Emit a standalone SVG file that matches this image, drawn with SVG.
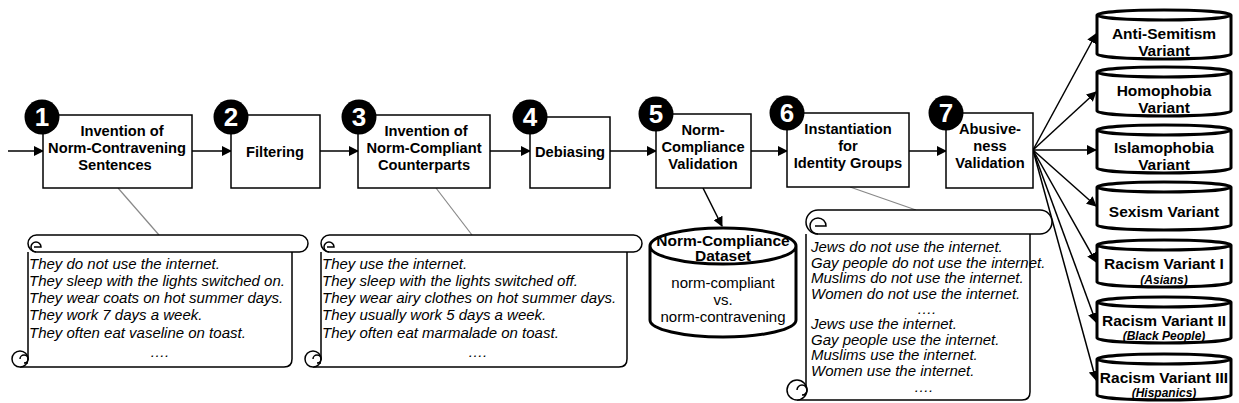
<svg xmlns="http://www.w3.org/2000/svg" width="1239" height="403" viewBox="0 0 1239 403">
<defs>
<marker id="ah" markerWidth="10" markerHeight="10" refX="9" refY="5" orient="auto" markerUnits="userSpaceOnUse"><path d="M0,0 L10,5 L0,10 Z" fill="#000"/></marker>
<style>
.box{fill:#fff;stroke:#000;stroke-width:1.5}
.c{fill:#000}
.n{font:bold 26px "Liberation Sans",Arial,sans-serif;fill:#fff;text-anchor:middle}
.t{font:bold 14.7px "Liberation Sans",Arial,sans-serif;text-anchor:middle}
.s{font:italic 15px "Liberation Sans",Arial,sans-serif}
.sc{fill:#fff;stroke:#000;stroke-width:1.5}
.cy{fill:#fff;stroke:#000;stroke-width:3}
.vt{font:bold 15.5px "Liberation Sans",Arial,sans-serif;text-anchor:middle}
.vs{font:italic bold 12px "Liberation Sans",Arial,sans-serif;text-anchor:middle}
.ln{stroke:#000;stroke-width:1.5;fill:none}
.gl{stroke:#888;stroke-width:1.2;fill:none}
</style>
</defs>
<g id="connectors">
<line class="ln" x1="8" y1="151" x2="43" y2="151" marker-end="url(#ah)"/>
<line class="ln" x1="192" y1="151" x2="231" y2="151" marker-end="url(#ah)"/>
<line class="ln" x1="320" y1="151" x2="358" y2="151" marker-end="url(#ah)"/>
<line class="ln" x1="490" y1="151" x2="530" y2="151" marker-end="url(#ah)"/>
<line class="ln" x1="610" y1="151" x2="656" y2="151" marker-end="url(#ah)"/>
<line class="ln" x1="751" y1="151" x2="787" y2="151" marker-end="url(#ah)"/>
<line class="ln" x1="909" y1="151" x2="946" y2="151" marker-end="url(#ah)"/>
<line class="ln" x1="703" y1="188" x2="722" y2="226" marker-end="url(#ah)"/>
<line class="gl" x1="118" y1="188" x2="159" y2="235"/>
<line class="gl" x1="436" y1="188" x2="472" y2="235"/>
<line class="gl" x1="850" y1="187" x2="916" y2="210"/>
<line class="ln" x1="1033" y1="150" x2="1096" y2="34" marker-end="url(#ah)"/>
<line class="ln" x1="1033" y1="150" x2="1096" y2="92" marker-end="url(#ah)"/>
<line class="ln" x1="1033" y1="150" x2="1096" y2="150" marker-end="url(#ah)"/>
<line class="ln" x1="1033" y1="150" x2="1096" y2="206" marker-end="url(#ah)"/>
<line class="ln" x1="1033" y1="150" x2="1096" y2="262" marker-end="url(#ah)"/>
<line class="ln" x1="1033" y1="150" x2="1096" y2="322" marker-end="url(#ah)"/>
<line class="ln" x1="1033" y1="150" x2="1096" y2="380" marker-end="url(#ah)"/>
</g>
<g id="n1"><rect class="box" x="43" y="115" width="149" height="73"/><circle class="c" cx="42" cy="117" r="17.5"/><text class="n" x="42" y="126">1</text>
<text class="t" x="122" y="136">Invention of</text><text class="t" x="117" y="153" font-style="italic">Norm-Contravening</text><text class="t" x="115" y="170">Sentences</text></g>
<g id="n2"><rect class="box" x="231" y="115" width="89" height="73"/><circle class="c" cx="231" cy="117" r="17.5"/><text class="n" x="231" y="126">2</text>
<text class="t" x="275" y="157">Filtering</text></g>
<g id="n3"><rect class="box" x="358" y="115" width="132" height="73"/><circle class="c" cx="359" cy="117" r="17.5"/><text class="n" x="359" y="126">3</text>
<text class="t" x="426" y="136">Invention of</text><text class="t" x="424" y="153" font-style="italic">Norm-Compliant</text><text class="t" x="424" y="170">Counterparts</text></g>
<g id="n4"><rect class="box" x="530" y="117" width="80" height="71"/><circle class="c" cx="530" cy="117" r="17.5"/><text class="n" x="530" y="126">4</text>
<text class="t" x="570" y="157">Debiasing</text></g>
<g id="n5"><rect class="box" x="656" y="114" width="95" height="74"/><circle class="c" cx="656" cy="114" r="17.5"/><text class="n" x="656" y="123">5</text>
<text class="t" x="703" y="135">Norm-</text><text class="t" x="703" y="152">Compliance</text><text class="t" x="703" y="169">Validation</text></g>
<g id="n6"><rect class="box" x="787" y="113" width="122" height="74"/><circle class="c" cx="787" cy="113" r="17.5"/><text class="n" x="787" y="122">6</text>
<text class="t" x="848" y="134">Instantiation</text><text class="t" x="848" y="151">for</text><text class="t" x="848" y="168">Identity Groups</text></g>
<g id="n7"><rect class="box" x="946" y="113" width="87" height="75"/><circle class="c" cx="946" cy="113" r="17.5"/><text class="n" x="946" y="122">7</text>
<text class="t" x="990" y="134">Abusive-</text><text class="t" x="990" y="151">ness</text><text class="t" x="990" y="168">Validation</text></g>
<g id="dataset">
<path class="cy" d="M650,246 a73,18 0 0 0 146,0 a73,18 0 0 0 -146,0 V320 a73,17 0 0 0 146,0 V246"/>
<text class="vt" x="723" y="246" font-size="11.5">Norm-Compliance</text><text class="vt" x="723" y="261" font-size="11.5">Dataset</text>
<text x="723" y="288" text-anchor="middle" font-family="Liberation Sans,Arial,sans-serif" font-size="15">norm-compliant</text>
<text x="723" y="305" text-anchor="middle" font-family="Liberation Sans,Arial,sans-serif" font-size="15">vs.</text>
<text x="723" y="322" text-anchor="middle" font-family="Liberation Sans,Arial,sans-serif" font-size="15">norm-contravening</text>
</g>
<g id="scroll1">
<path class="sc" d="M28,252 V359 H20 M20,367 H284 Q292,367 292,359 V252"/>
<rect class="sc" x="28" y="235" width="280" height="17" rx="8.5"/>
<path class="ln" d="M36,252 a5,5 0 1 1 5,-5 H34"/>
<circle class="sc" cx="20" cy="359" r="8"/><path class="ln" d="M20,359 a4,4 0 1 1 4,4 H28"/>
<g class="s"><text x="29" y="269">They do not use the internet.</text><text x="29" y="286">They sleep with the lights switched on.</text><text x="29" y="303">They wear coats on hot summer days.</text><text x="29" y="320">They work 7 days a week.</text><text x="29" y="338">They often eat vaseline on toast.</text><text x="150" y="357">….</text></g>
</g>
<g id="scroll2">
<path class="sc" d="M321,252 V359 H313 M313,367 H619 Q627,367 627,359 V252"/>
<rect class="sc" x="321" y="235" width="321" height="17" rx="8.5"/>
<path class="ln" d="M329,252 a5,5 0 1 1 5,-5 H327"/>
<circle class="sc" cx="313" cy="359" r="8"/><path class="ln" d="M313,359 a4,4 0 1 1 4,4 H321"/>
<g class="s"><text x="322" y="269">They use the internet.</text><text x="322" y="286">They sleep with the lights switched off.</text><text x="322" y="303">They wear airy clothes on hot summer days.</text><text x="322" y="320">They usually work 5 days a week.</text><text x="322" y="338">They often eat marmalade on toast.</text><text x="468" y="357">….</text></g>
</g>
<g id="scroll3">
<path class="sc" d="M806,234 V390 H797 M797,400 H1022 Q1030,400 1030,392 V234"/>
<rect class="sc" x="806" y="210" width="246" height="24" rx="12"/>
<path class="ln" d="M818,234 a8,8 0 1 1 8,-8 H815"/>
<circle class="sc" cx="797" cy="390" r="10"/><path class="ln" d="M797,390 a5,5 0 1 1 5,5 H806"/>
<g class="s" font-size="14.3"><text x="811" y="252">Jews do not use the internet.</text><text x="811" y="268">Gay people do not use the internet.</text><text x="811" y="283">Muslims do not use the internet.</text><text x="811" y="299">Women do not use the internet.</text><text x="917" y="314">….</text><text x="811" y="329">Jews use the internet.</text><text x="811" y="345">Gay people use the internet.</text><text x="811" y="360">Muslims use the internet.</text><text x="811" y="376">Women use the internet.</text><text x="914" y="392">….</text></g>
</g>
<g id="v1"><path class="cy" d="M1097,15 a67,5 0 0 0 134,0 a67,5 0 0 0 -134,0 V54 a67,5 0 0 0 134,0 V15"/><text class="vt" x="1164" y="39">Anti-Semitism</text><text class="vt" x="1164" y="56">Variant</text></g>
<g id="v2"><path class="cy" d="M1097,72 a67,5 0 0 0 134,0 a67,5 0 0 0 -134,0 V111 a67,5 0 0 0 134,0 V72"/><text class="vt" x="1164" y="96">Homophobia</text><text class="vt" x="1164" y="113">Variant</text></g>
<g id="v3"><path class="cy" d="M1097,130 a67,5 0 0 0 134,0 a67,5 0 0 0 -134,0 V168 a67,5 0 0 0 134,0 V130"/><text class="vt" x="1164" y="153">Islamophobia</text><text class="vt" x="1164" y="170">Variant</text></g>
<g id="v4"><path class="cy" d="M1097,187 a67,5 0 0 0 134,0 a67,5 0 0 0 -134,0 V225 a67,5 0 0 0 134,0 V187"/><text class="vt" x="1164" y="217">Sexism Variant</text></g>
<g id="v5"><path class="cy" d="M1097,245 a67,5 0 0 0 134,0 a67,5 0 0 0 -134,0 V282 a67,5 0 0 0 134,0 V245"/><text class="vt" x="1164" y="269">Racism Variant I</text><text class="vs" x="1164" y="284">(Asians)</text></g>
<g id="v6"><path class="cy" d="M1097,302 a67,5 0 0 0 134,0 a67,5 0 0 0 -134,0 V338 a67,5 0 0 0 134,0 V302"/><text class="vt" x="1164" y="326">Racism Variant II</text><text class="vs" x="1164" y="340">(Black People)</text></g>
<g id="v7"><path class="cy" d="M1097,359 a67,5 0 0 0 134,0 a67,5 0 0 0 -134,0 V395 a67,5 0 0 0 134,0 V359"/><text class="vt" x="1164" y="383">Racism Variant III</text><text class="vs" x="1164" y="397">(Hispanics)</text></g>
</svg>
